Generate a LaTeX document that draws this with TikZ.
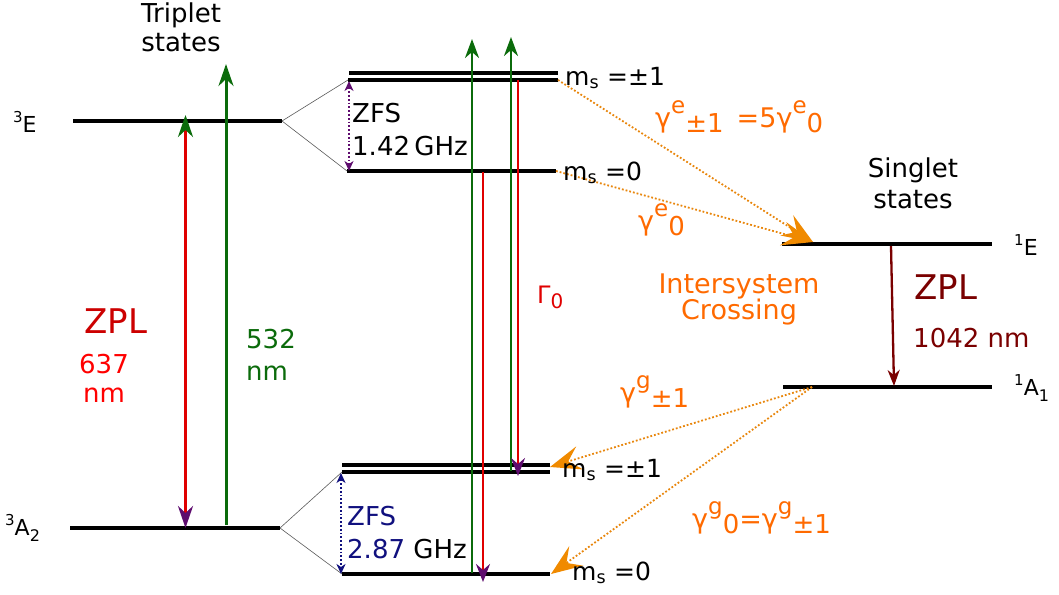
\documentclass[tikz,border=0pt]{standalone}
\usepackage{fontspec}
\setmainfont{DejaVu Sans}
\usetikzlibrary{arrows.meta}
\definecolor{cgreen}{HTML}{0B6B0B}
\definecolor{cred}{HTML}{E00000}
\definecolor{cbright}{HTML}{FF0000}
\definecolor{czpl}{HTML}{CC0000}
\definecolor{cpurp}{HTML}{5E0C6E}
\definecolor{corange}{HTML}{FF6A00}
\definecolor{cdot}{HTML}{E8860C}
\definecolor{chead}{HTML}{F08A00}
\definecolor{cnavy}{HTML}{10107E}
\definecolor{cdred}{HTML}{7A0000}
\newcommand\fs[1]{\fontsize{#1}{#1}\selectfont}
\newcommand\gsup[1]{\raisebox{0.5em}{\fs{23}#1}}
\newcommand\gsub[1]{\raisebox{-0.2em}{\fs{26}#1}}
\newcommand\lsub[1]{\raisebox{-0.28em}{\fs{16}#1}}
\newcommand\lsup[1]{\raisebox{0.45em}{\fs{15}#1}}
\begin{document}
\begin{tikzpicture}[x=1pt,y=-1pt,
  lvl/.style={line width=3.2pt, black},
  splitline/.style={line width=0.6pt, black!65},
  txt/.style={inner sep=0pt, anchor=base west},
  ctxt/.style={inner sep=0pt, anchor=base},
  greenarrow/.style={line width=3pt, cgreen, -{Stealth[length=22pt,width=15pt,inset=7pt]}},
  midgreen/.style={line width=2.5pt, cgreen, -{Stealth[length=19pt,width=14pt,inset=6pt]}},
  midred/.style={line width=2.5pt, cred, -{Stealth[length=18pt,width=14pt,inset=6pt,color=cpurp]}},
  zfsarrow/.style={line width=1.8pt, dotted, {Stealth[length=10pt,width=9pt,inset=3pt]}-{Stealth[length=10pt,width=9pt,inset=3pt]}},
  isc/.style={line width=1.8pt, cdot, dotted, -{Stealth[length=31pt,width=24pt,inset=12pt,color=chead]}},
]
\useasboundingbox (0,0) rectangle (1059,594);

% ---- level coordinates ----
\coordinate (TEa) at (73,121);  \coordinate (TEb) at (282,121);
\coordinate (TAa) at (70,528);  \coordinate (TAb) at (280,528);
\coordinate (EPa1) at (349,73); \coordinate (EPb1) at (558,73);
\coordinate (EPa2) at (348,80); \coordinate (EPb2) at (558,80);
\coordinate (E0a) at (347,171); \coordinate (E0b) at (556,171);
\coordinate (GPa1) at (342,465); \coordinate (GPb1) at (550,465);
\coordinate (GPa2) at (342,472); \coordinate (GPb2) at (550,472);
\coordinate (G0a) at (342,574); \coordinate (G0b) at (550,574);
\coordinate (SEa) at (782,244); \coordinate (SEb) at (992,244);
\coordinate (SAa) at (783,387); \coordinate (SAb) at (992,387);

% ---- splitting lines ----
\draw[splitline] (TEb) -- (EPa2);
\draw[splitline] (TEb) -- (E0a);
\draw[splitline] (TAb) -- (GPa2);
\draw[splitline] (TAb) -- (G0a);

% ---- levels ----
\draw[lvl] (TEa) -- (TEb);
\draw[lvl] (TAa) -- (TAb);
\draw[lvl] (EPa1) -- (EPb1);
\draw[lvl] (EPa2) -- (EPb2);
\draw[lvl] (E0a) -- (E0b);
\draw[lvl] (GPa1) -- (GPb1);
\draw[lvl] (GPa2) -- (GPb2);
\draw[lvl] (G0a) -- (G0b);
\draw[lvl] (SEa) -- (SEb);
\draw[lvl] (SAa) -- (SAb);

% ---- left arrows ----
\coordinate (zplTop) at (185.5,115); \coordinate (zplBot) at (185.5,528);
\draw[line width=3pt, cred, {Stealth[length=22pt,width=15pt,inset=7pt,color=cgreen]}-{Stealth[length=22pt,width=15pt,inset=7pt,color=cpurp]}] (zplTop) -- (zplBot);
\coordinate (g532b) at (226,525); \coordinate (g532t) at (226,64);
\draw[greenarrow] (g532b) -- (g532t);

% ---- middle arrows ----
\coordinate (g1b) at (472,573); \coordinate (g1t) at (472,39);
\coordinate (g2b) at (511,471); \coordinate (g2t) at (511,37);
\coordinate (r1t) at (483,172); \coordinate (r1b) at (483,582);
\coordinate (r2t) at (518,80);  \coordinate (r2b) at (518,476);
\draw[midgreen] (g1b) -- (g1t);
\draw[midgreen] (g2b) -- (g2t);
\draw[midred] (r1t) -- (r1b);
\draw[midred] (r2t) -- (r2b);

% ---- ZFS arrows ----
\coordinate (zeT) at (349,81); \coordinate (zeB) at (349,171);
\coordinate (zgT) at (341,473); \coordinate (zgB) at (341,574);
\draw[zfsarrow, cpurp] (zeT) -- (zeB);
\draw[zfsarrow, cnavy] (zgT) -- (zgB);

% ---- singlet ZPL ----
\coordinate (sT) at (891,246); \coordinate (sB) at (894,386);
\draw[line width=2.3pt, cdred, -{Stealth[length=16pt,width=12pt,inset=5pt]}] (sT) -- (sB);

% ---- intersystem crossing ----
\coordinate (iscE) at (813,242);
\coordinate (iscA) at (812,387);
\coordinate (tipP) at (550,467);
\coordinate (tip0) at (551,574);
\draw[isc] (EPb2) -- (iscE);
\draw[isc] (E0b) -- (iscE);
\draw[isc] (iscA) -- (tipP);
\draw[isc] (iscA) -- (tip0);

% ---- texts ----
\node[ctxt, font=\fs{26}] (trip1) at (181,23) {Triplet};
\node[ctxt, font=\fs{26}] (trip2) at (181,52) {states};
\node[ctxt, font=\fs{26}] (sing1) at (913,177) {Singlet};
\node[ctxt, font=\fs{26}] (sing2) at (913,208) {states};

\node[txt, font=\fs{22}] (l3E) at (13,132) {\lsup{3}E};
\node[txt, font=\fs{22}] (l3A) at (5,535) {\lsup{3}A\lsub{2}};
\node[txt, font=\fs{22}] (l1E) at (1014,255) {\lsup{1}E};
\node[txt, font=\fs{22}] (l1A) at (1014,395) {\lsup{1}A\lsub{1}};

\node[txt, font=\fs{25}] (ms1) at (565,85) {m\textsubscript{s} =±1};
\node[txt, font=\fs{25}] (ms2) at (563,180) {m\textsubscript{s} =0};
\node[txt, font=\fs{25}] (ms3) at (562,477) {m\textsubscript{s} =±1};
\node[txt, font=\fs{25}] (ms4) at (572,580) {m\textsubscript{s} =0};

\node[txt, font=\fs{26}] (zfs1) at (352,122) {ZFS};
\node[txt, font=\fs{26}] (zfs1b) at (352,155) {1.42\,GHz};
\node[txt, font=\fs{26}, cnavy] (zfs2) at (347,525) {ZFS};
\node[txt, font=\fs{26}] (zfs2b) at (347,558) {\textcolor{cnavy}{2.87} GHz};

\node[ctxt, font=\fs{34}, czpl] (zplL) at (116,333) {ZPL};
\node[ctxt, font=\fs{26}, cbright] (n637) at (104,373) {637};
\node[ctxt, font=\fs{26}, cbright] (n637b) at (104,402) {nm};
\node[txt, font=\fs{26}, cgreen] (n532) at (246,348) {532};
\node[txt, font=\fs{26}, cgreen] (n532b) at (246,380) {nm};

\node[txt, font=\fs{24}, cred] (gam) at (537,303) {Γ\raisebox{-0.22em}{\fs{20}0}};

\node[ctxt, font=\fs{34}, cdred] (zplR) at (946,299) {ZPL};
\node[txt, font=\fs{26}, cdred] (n1042) at (913,347) {1042 nm};

\node[ctxt, font=\fs{27}, corange] (isc1) at (739,293) {Intersystem};
\node[ctxt, font=\fs{27}, corange] (isc2) at (739,319) {Crossing};

\node[txt, font=\fs{27}, corange] (ge1) at (655,127) {γ\gsup{e}\gsub{±1}\, =5γ\gsup{e}\gsub{0}};
\node[txt, font=\fs{27}, corange] (ge0) at (638,230) {γ\gsup{e}\gsub{0}};
\node[txt, font=\fs{27}, corange] (gg1) at (620,402) {γ\gsup{g}\gsub{±1}};
\node[txt, font=\fs{27}, corange] (gg0) at (692,528) {γ\gsup{g}\gsub{0}=γ\gsup{g}\gsub{±1}};
\end{tikzpicture}
\end{document}
